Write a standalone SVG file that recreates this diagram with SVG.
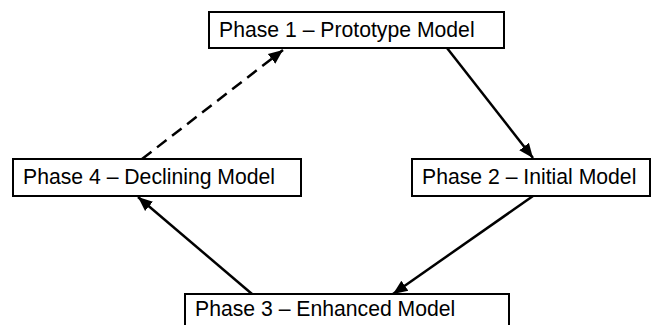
<svg xmlns="http://www.w3.org/2000/svg" width="655" height="325" viewBox="0 0 655 325">
  <style>
    .box { fill: #ffffff; stroke: #000000; stroke-width: 2; }
    .label { font-family: "Liberation Sans", Arial, sans-serif; font-size: 21.2px; fill: #000000; }
    .edge { stroke: #000000; stroke-width: 2.5; fill: none; marker-end: url(#arrow); }
    .dashed { stroke-dasharray: 12 7; }
  </style>
  <defs>
    <marker id="arrow" viewBox="0 0 10 10" refX="10" refY="5" markerWidth="5.8" markerHeight="5.8" orient="auto" markerUnits="strokeWidth">
      <path d="M0,0.8 L10,5 L0,9.2 z" fill="#000000"/>
    </marker>
  </defs>

  <g id="connectors">
    <line class="edge dashed" x1="142" y1="159" x2="283" y2="50"/>
    <line class="edge" x1="447" y1="48" x2="533" y2="158"/>
    <line class="edge" x1="533" y1="196" x2="393" y2="294"/>
    <line class="edge" x1="252" y1="294" x2="138" y2="197"/>
  </g>

  <g id="phase1">
    <rect class="box" x="209" y="12" width="295" height="36"/>
    <text class="label" x="219" y="37">Phase 1 – Prototype Model</text>
  </g>
  <g id="phase2">
    <rect class="box" x="412" y="159" width="238" height="37"/>
    <text class="label" x="422" y="184">Phase 2 – Initial Model</text>
  </g>
  <g id="phase3">
    <rect class="box" x="185" y="294" width="324" height="40"/>
    <text class="label" x="195" y="316">Phase 3 – Enhanced Model</text>
  </g>
  <g id="phase4">
    <rect class="box" x="13" y="159" width="288" height="37"/>
    <text class="label" x="23" y="184">Phase 4 – Declining Model</text>
  </g>
</svg>
